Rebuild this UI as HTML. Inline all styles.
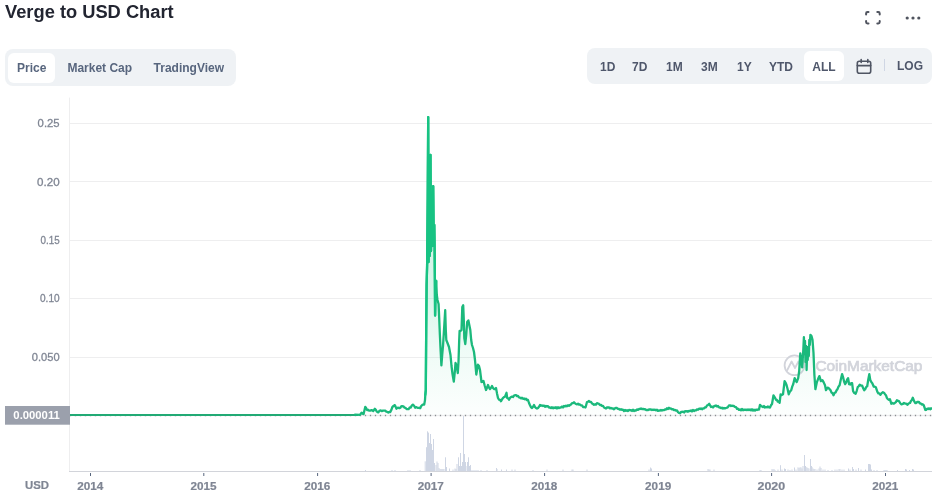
<!DOCTYPE html>
<html lang="en"><head><meta charset="utf-8"><title>Verge to USD Chart</title>
<style>
html,body{margin:0;padding:0;background:#fff;}
body{width:932px;height:498px;overflow:hidden;position:relative;font-family:"Liberation Sans",Arial,sans-serif;}
h2.title{position:absolute;left:5px;top:1px;margin:0;font-size:18.3px;line-height:22px;font-weight:700;color:#222531;letter-spacing:0;}
.icons{position:absolute;right:0;top:0;}
.tabs{position:absolute;left:4.6px;top:49.4px;width:231.6px;height:37.1px;background:#eff2f5;border-radius:8px;}
.tab{position:absolute;top:3.8px;height:30.3px;line-height:30px;font-size:12px;font-weight:700;color:#58667e;white-space:nowrap;}
.tab.on{background:#fff;border-radius:6px;}
.ranges{position:absolute;left:587px;top:48px;width:345px;height:36px;background:#eff2f5;border-radius:8px;}
.rg{position:absolute;top:4px;height:30px;line-height:30px;font-size:12px;font-weight:700;color:#4f576b;white-space:nowrap;}
.rg.on{background:#fff;border-radius:6px;}
svg{position:absolute;left:0;top:0;}
</style></head><body>
<h2 class="title">Verge to USD Chart</h2>
<svg width="932" height="498" viewBox="0 0 932 498" style="z-index:0">
 <defs>
  <linearGradient id="ag" x1="0" y1="116" x2="0" y2="416" gradientUnits="userSpaceOnUse">
   <stop offset="0" stop-color="#16c784" stop-opacity="0.26"/>
   <stop offset="0.6" stop-color="#16c784" stop-opacity="0.16"/>
   <stop offset="0.78" stop-color="#16c784" stop-opacity="0.07"/>
   <stop offset="1" stop-color="#16c784" stop-opacity="0.01"/>
  </linearGradient>
 </defs>
 <g stroke="#eeeeef" stroke-width="1"><line x1="70" y1="123.5" x2="932" y2="123.5"/><line x1="70" y1="181.5" x2="932" y2="181.5"/><line x1="70" y1="240.5" x2="932" y2="240.5"/><line x1="70" y1="298.5" x2="932" y2="298.5"/><line x1="70" y1="357.5" x2="932" y2="357.5"/></g>
 <line x1="69.5" y1="97.6" x2="69.5" y2="471" stroke="#eeeeef" stroke-width="1"/>
 <g fill="#cfd6e4"><rect x="365" y="470" width="1" height="1"/><rect x="391.5" y="470" width="1" height="1"/><rect x="394.5" y="470" width="1" height="1"/><rect x="407.5" y="470" width="1" height="1"/><rect x="409.5" y="470" width="1" height="1"/><rect x="419.5" y="470" width="1" height="1"/><rect x="424.7" y="461.3" width="1" height="9.7"/><rect x="426" y="447.2" width="1" height="23.8"/><rect x="427" y="431.3" width="1" height="39.7"/><rect x="428" y="432.6" width="1" height="38.4"/><rect x="429" y="443" width="1" height="28"/><rect x="430" y="434" width="1" height="37"/><rect x="431" y="444" width="1" height="27"/><rect x="432" y="450" width="1" height="21"/><rect x="433" y="439" width="1" height="32"/><rect x="434" y="463" width="1" height="8"/><rect x="435.5" y="465" width="1" height="6"/><rect x="436.5" y="461.5" width="1" height="9.5"/><rect x="437.5" y="463" width="1" height="8"/><rect x="438.5" y="468" width="1" height="3"/><rect x="439.5" y="469" width="1" height="2"/><rect x="440.5" y="469" width="1" height="2"/><rect x="441.5" y="469" width="1" height="2"/><rect x="442.5" y="469" width="1" height="2"/><rect x="443.5" y="469" width="1" height="2"/><rect x="445" y="457.3" width="1" height="13.7"/><rect x="446" y="467" width="1" height="4"/><rect x="449" y="468.5" width="1" height="2.5"/><rect x="452.5" y="469.5" width="1" height="1.5"/><rect x="454.5" y="468.5" width="1" height="2.5"/><rect x="455.5" y="469" width="1" height="2"/><rect x="456.5" y="464" width="1" height="7"/><rect x="458" y="457.3" width="1" height="13.7"/><rect x="459" y="466" width="1" height="5"/><rect x="460" y="453" width="1" height="18"/><rect x="461" y="466" width="1" height="5"/><rect x="462" y="462" width="1" height="9"/><rect x="463" y="416" width="1" height="55"/><rect x="464" y="454" width="1" height="17"/><rect x="465" y="462" width="1" height="9"/><rect x="465.5" y="466" width="1" height="5"/><rect x="467" y="462" width="1" height="9"/><rect x="468" y="457.3" width="1" height="13.7"/><rect x="469" y="466" width="1" height="5"/><rect x="470" y="465" width="1" height="6"/><rect x="471.5" y="470" width="1" height="1"/><rect x="473.5" y="470" width="1" height="1"/><rect x="475.5" y="470" width="1" height="1"/><rect x="477.5" y="470" width="1" height="1"/><rect x="480.5" y="470" width="1" height="1"/><rect x="486.5" y="470" width="1" height="1"/><rect x="496" y="468" width="1" height="3"/><rect x="496.5" y="469" width="1" height="2"/><rect x="501" y="469.5" width="1" height="1.5"/><rect x="506" y="469.5" width="1" height="1.5"/><rect x="511.5" y="469.5" width="1" height="1.5"/><rect x="514.5" y="469.5" width="1" height="1.5"/><rect x="532.5" y="470" width="1" height="1"/><rect x="546.5" y="469.5" width="1" height="1.5"/><rect x="562.5" y="469.5" width="1" height="1.5"/><rect x="571.5" y="469.5" width="1" height="1.5"/><rect x="572.5" y="469.5" width="1" height="1.5"/><rect x="586.5" y="469.5" width="1" height="1.5"/><rect x="648.5" y="469.5" width="1" height="1.5"/><rect x="650" y="467.5" width="1" height="3.5"/><rect x="651" y="468.5" width="1" height="2.5"/><rect x="707.5" y="469" width="1" height="2"/><rect x="708.5" y="469.5" width="1" height="1.5"/><rect x="709.5" y="469.5" width="1" height="1.5"/><rect x="713.5" y="469.5" width="1" height="1.5"/><rect x="759.5" y="470" width="1" height="1"/><rect x="760.5" y="470" width="1" height="1"/><rect x="771.5" y="469" width="1" height="2"/><rect x="772.5" y="469.5" width="1" height="1.5"/><rect x="773.5" y="469" width="1" height="2"/><rect x="774.5" y="470" width="1" height="1"/><rect x="777.5" y="469.5" width="1" height="1.5"/><rect x="780" y="465.2" width="1" height="5.8"/><rect x="781.5" y="469.5" width="1" height="1.5"/><rect x="784" y="468.5" width="1" height="2.5"/><rect x="785" y="469" width="1" height="2"/><rect x="787.5" y="469.5" width="1" height="1.5"/><rect x="789.5" y="470" width="1" height="1"/><rect x="791.5" y="469.5" width="1" height="1.5"/><rect x="794" y="467.5" width="1" height="3.5"/><rect x="795.5" y="469.5" width="1" height="1.5"/><rect x="797.5" y="467.3" width="1" height="3.7"/><rect x="798.5" y="468" width="1" height="3"/><rect x="799.5" y="467.3" width="1" height="3.7"/><rect x="800.5" y="467.3" width="1" height="3.7"/><rect x="801.5" y="468.5" width="1" height="2.5"/><rect x="802.5" y="466" width="1" height="5"/><rect x="804" y="455" width="1" height="16"/><rect x="805" y="466" width="1" height="5"/><rect x="805.5" y="467" width="1" height="4"/><rect x="806.5" y="467.5" width="1" height="3.5"/><rect x="807.5" y="468" width="1" height="3"/><rect x="808.5" y="468.5" width="1" height="2.5"/><rect x="810" y="459" width="1" height="12"/><rect x="811" y="466" width="1" height="5"/><rect x="811.5" y="467" width="1" height="4"/><rect x="812.5" y="468.5" width="1" height="2.5"/><rect x="813.5" y="469" width="1" height="2"/><rect x="814.5" y="469" width="1" height="2"/><rect x="816.5" y="469.5" width="1" height="1.5"/><rect x="818.5" y="468.5" width="1" height="2.5"/><rect x="819.5" y="466.5" width="1" height="4.5"/><rect x="820.5" y="468" width="1" height="3"/><rect x="822.5" y="469.5" width="1" height="1.5"/><rect x="824.5" y="469.5" width="1" height="1.5"/><rect x="827.5" y="470" width="1" height="1"/><rect x="831.5" y="470" width="1" height="1"/><rect x="834.5" y="469.5" width="1" height="1.5"/><rect x="836.5" y="469.5" width="1" height="1.5"/><rect x="838.5" y="469" width="1" height="2"/><rect x="839.5" y="469" width="1" height="2"/><rect x="841.5" y="469.5" width="1" height="1.5"/><rect x="843.5" y="469.5" width="1" height="1.5"/><rect x="848" y="468.5" width="1" height="2.5"/><rect x="849.5" y="469.5" width="1" height="1.5"/><rect x="852" y="467" width="1" height="4"/><rect x="853" y="469" width="1" height="2"/><rect x="855.5" y="469.5" width="1" height="1.5"/><rect x="858" y="468" width="1" height="3"/><rect x="860.5" y="469.5" width="1" height="1.5"/><rect x="865" y="469.5" width="1" height="1.5"/><rect x="868" y="464" width="1" height="7"/><rect x="869" y="464" width="1" height="7"/><rect x="870" y="464.5" width="1" height="6.5"/><rect x="871" y="469.5" width="1" height="1.5"/><rect x="873.5" y="470" width="1" height="1"/><rect x="876.5" y="470" width="1" height="1"/><rect x="883.5" y="470" width="1" height="1"/><rect x="884.5" y="470" width="1" height="1"/><rect x="885.5" y="470" width="1" height="1"/><rect x="886.5" y="470" width="1" height="1"/><rect x="897" y="470" width="1" height="1"/><rect x="905" y="469" width="1" height="2"/><rect x="906" y="469.5" width="1" height="1.5"/><rect x="909" y="470" width="1" height="1"/><rect x="912" y="469" width="1" height="2"/><rect x="913" y="469.5" width="1" height="1.5"/></g>
 <line x1="69" y1="471.5" x2="932" y2="471.5" stroke="#d2d4da" stroke-width="1.2"/>
 <g stroke="#58667e" stroke-width="1"><line x1="90.5" y1="473" x2="90.5" y2="476"/><line x1="203.8" y1="473" x2="203.8" y2="476"/><line x1="317.6" y1="473" x2="317.6" y2="476"/><line x1="431.1" y1="473" x2="431.1" y2="476"/><line x1="544.6" y1="473" x2="544.6" y2="476"/><line x1="658.4" y1="473" x2="658.4" y2="476"/><line x1="771.6" y1="473" x2="771.6" y2="476"/><line x1="885.5" y1="473" x2="885.5" y2="476"/></g>
 <g font-family="Liberation Sans, Arial, sans-serif" font-size="11.5" fill="#7f8593" stroke="#7f8593" stroke-width="0.3"><text x="37.6" y="127.2" textLength="22.0" lengthAdjust="spacingAndGlyphs">0.25</text><text x="37.1" y="185.5" textLength="22.5" lengthAdjust="spacingAndGlyphs">0.20</text><text x="40.5" y="243.9" textLength="19.1" lengthAdjust="spacingAndGlyphs">0.15</text><text x="40" y="302.3" textLength="19.6" lengthAdjust="spacingAndGlyphs">0.10</text><text x="31.8" y="360.8" textLength="27.8" lengthAdjust="spacingAndGlyphs">0.050</text></g>
 <g font-family="Liberation Sans, Arial, sans-serif" font-size="11.6" font-weight="700" fill="#7f8593" stroke="#7f8593" stroke-width="0.2"><text x="77.2" y="490" textLength="26.1" lengthAdjust="spacingAndGlyphs">2014</text><text x="190.5" y="490" textLength="26.1" lengthAdjust="spacingAndGlyphs">2015</text><text x="304.3" y="490" textLength="26.1" lengthAdjust="spacingAndGlyphs">2016</text><text x="417.8" y="490" textLength="26.1" lengthAdjust="spacingAndGlyphs">2017</text><text x="531.3" y="490" textLength="26.1" lengthAdjust="spacingAndGlyphs">2018</text><text x="645.1" y="490" textLength="26.1" lengthAdjust="spacingAndGlyphs">2019</text><text x="757.5" y="490" textLength="27.7" lengthAdjust="spacingAndGlyphs">2020</text><text x="872.2" y="490" textLength="26.1" lengthAdjust="spacingAndGlyphs">2021</text><text x="25" y="488.6" font-size="11.5" textLength="24" lengthAdjust="spacingAndGlyphs">USD</text></g>
 <g fill="none" stroke="#d2d4db" stroke-width="1.8">
  <circle cx="794.5" cy="365.3" r="9.9"/>
  <path d="M787.3 370 L791.6 361.5 L795 368 L798.4 361.5 L801 367" stroke-linejoin="round" stroke-linecap="round"/>
 </g>
 <text x="815.4" y="371.4" font-family="Liberation Sans, Arial, sans-serif" font-size="14.4" font-weight="400" fill="#d2d4db" stroke="#d2d4db" stroke-width="0.7" textLength="107" lengthAdjust="spacingAndGlyphs">CoinMarketCap</text>
 <path d="M70 415 L355 414.7 L360 414.9 L361.6 412.6 L362.6 413.72 L363.6 414.1 L365.3 406.8 L366.2 408.17 L367.1 410.1 L368.1 409.74 L369.1 410.68 L370.1 410.6 L371.6 410.1 L373.2 411.1 L374.9 408.8 L375.8 409.73 L376.7 411.6 L378.2 412.4 L379.7 410.6 L380.7 410.46 L381.7 411.1 L382.95 410.61 L384.2 410.6 L385.25 410.64 L386.3 411.6 L387.3 411.87 L388.3 412.6 L389.3 411.93 L390.3 412.1 L391.3 410.1 L392.3 407.1 L393.55 405.86 L394.8 405.1 L396.5 408.7 L397.9 407.6 L399.4 408.2 L400.3 407.75 L401.2 406.38 L402.1 406.1 L403.35 406.28 L404.6 407.7 L405.6 407.93 L406.6 409.02 L407.6 409.2 L408.6 409.22 L409.6 407.53 L410.6 407.7 L411.75 405.66 L412.9 404.6 L414.05 405.75 L415.2 407.7 L416.45 407.11 L417.7 407.9 L418.95 407.82 L420.2 408.2 L421.2 406.02 L422.2 405.1 L423.2 404.5 L424.2 404.6 L425 400.1 L425.3 395 L425.8 390 L426.2 330 L426.6 285 L427.1 266 L427.7 200 L428.2 117.1 L428.6 262 L429.1 200 L429.7 256 L430.5 155 L431 251 L431.6 200 L432.2 246 L433.2 186.2 L433.8 246 L434.3 225 L434.6 246 L434.9 281 L435.1 315.6 L435.6 290 L436.2 281 L436.8 295 L437.5 300 L438.6 304 L439.2 318 L439.8 333 L440.5 348 L441.4 365.4 L442.2 355 L443 346 L444 330 L445.2 310.2 L445.8 330 L446.3 340 L447.5 343 L449 347 L450.5 355 L451.5 366 L452.5 374 L453.8 381.6 L454.8 372 L455.5 363 L456.5 365 L457.8 373 L458.5 362 L459.2 340 L459.6 331 L460.5 331 L461.5 330 L462.3 307 L463.2 305.2 L463.8 320 L464.3 338 L465.3 344 L466.2 335 L467.2 322 L468.4 320.4 L469.3 325 L470.3 330 L471.2 340 L472 345 L473 348 L474 352 L475 360 L476.3 374.5 L477.9 364.6 L479 366 L480 370 L481.5 382 L482.5 381.78 L483.5 381 L484.75 385.77 L486 390 L487 387.86 L488 385 L489 387.61 L490 389 L491 387.8 L492 386 L493 387.99 L494 389 L495 389.02 L496 388 L497 393.39 L498 398 L499 399.55 L500 399.89 L501 401.2 L502 399.36 L503 398 L504 397.04 L505 396.7 L506.5 392.8 L507.2 398 L508.1 398.31 L509 399.7 L510 397.93 L511 397 L512 396.64 L513 397 L514 395.6 L515 395.2 L516 395.03 L517 396.09 L518 396 L519 397.45 L520 397.7 L521 398.45 L522 397.77 L523 398.79 L524 398.5 L525 399.34 L526 398.61 L527 400.19 L528 400 L529 403 L530 405.3 L531 407.34 L532 408 L533 406.77 L534 405 L535 406.91 L536 408 L537 408.58 L538 408 L539 406.78 L540 405 L541 405.78 L542 405.44 L543 406 L544 405.59 L545 406.83 L546 405.88 L547 406.5 L548 406.19 L549 407.53 L550 407.5 L551 408.15 L552 407.2 L553 408.29 L554 407.47 L555 408 L556 407.28 L557 408.47 L558 407.26 L559 408.14 L560 407.5 L561 407.54 L562 406.55 L563 407.43 L564 406 L565 406.5 L566 405.59 L567 406.25 L568 405.2 L569 405.84 L570 405 L571 404.52 L572 403.16 L573 403.19 L574 402.2 L575 403.37 L576 404 L577 404.36 L578 403.66 L579 404.65 L580 404.5 L581 405.46 L582 405.35 L583 407.01 L584 407 L585.5 407.5 L587 402 L588 401.75 L589 401 L590 401.93 L591 402 L592 403.48 L593 404 L594 404.79 L595 404.3 L596 404.64 L597 403.13 L598 403.5 L599 403.9 L600 405 L601 404.85 L602 405.92 L603 405.8 L604 407.54 L605 408 L606 408.51 L607 407.38 L608 407.5 L609 407.45 L610 408.32 L611 407.93 L612 408.5 L613 408.45 L614 409.3 L615 408.15 L616 408 L617 407.99 L618 408.88 L619 409 L620 409.68 L621 409.14 L622 409.8 L623 409.56 L624 410.98 L625 410 L626 410.8 L627 410.21 L628 411.06 L629 409.88 L630 410.3 L631 410.06 L632 410.95 L633 409.71 L634 410.94 L635 410.3 L636 410.64 L637 409.38 L638 409.93 L639 409 L640 409 L641 408.41 L642 409.11 L643 408.8 L644 409.34 L645 409.09 L646 409.99 L647 410 L648 410.21 L649 409.43 L650 409.5 L651 409.41 L652 410.03 L653 409.62 L654 410 L655 409.71 L656 410.42 L657 409.66 L658 410.91 L659 410.5 L660 410.66 L661 409.92 L662 410.51 L663 410 L664 410.22 L665 409.4 L666 409.5 L667 408.31 L668 409.06 L669 407.8 L670 408.59 L671 408.5 L672 409.45 L673 409.25 L674 410 L675 409.91 L676 410.71 L677 410.5 L678 412.04 L679 412.9 L680 413.22 L681 412.01 L682 412 L683 411.65 L684 412.43 L685 411.16 L686 411.5 L687 411.09 L688 411.73 L689 410.9 L690 411 L691 410.39 L692 411.41 L693 409.95 L694 410.99 L695 410.3 L696 410.38 L697 409.39 L698 409.81 L699 408.67 L700 409 L701 408.36 L702 409.26 L703 408.5 L704 408.47 L705 407.38 L706 407.3 L707 405.54 L708 405 L709.2 403.8 L711 407 L712 406.56 L713 407.5 L714 406.12 L715 406 L716 405.4 L717 406.61 L718 406 L719 407.32 L720 407.5 L721 408.15 L722 407.7 L723 408.5 L724 407.95 L725 408.39 L726 408 L727 407.72 L728 407 L729 405.3 L730 405.3 L731 406 L732 405.66 L733 406 L734 405.95 L735 407 L736 407.22 L737 408.8 L738 408.6 L739 409.94 L740 409.5 L741 410.29 L742 409.02 L743 410.19 L744 409.58 L745 410 L746 409.58 L747 410.11 L748 409.39 L749 410.12 L750 409.5 L751 410.35 L752 409.28 L753 410.54 L754 409.77 L755 410.5 L756 409.65 L757 410 L758 409.5 L759 409.5 L760 404.8 L761 406 L762 406.5 L763 407.16 L764 406.09 L765 407.47 L766 407 L767 407.33 L768 406.5 L769 407.44 L770 407.5 L771 405.3 L772 404 L773.5 395.3 L774.75 397.25 L776 399.8 L776.9 399.95 L777.8 401.67 L778.7 401.45 L779.6 402.8 L780.6 394.3 L781.8 394.99 L783 394.3 L784.6 381.1 L785.6 382.75 L786.6 385.2 L787.65 389.34 L788.7 394.3 L789.95 391.58 L791.2 390.2 L792.2 386.63 L793.2 384.2 L794.7 378.1 L795.7 380.39 L796.7 382.1 L798.2 378.1 L799.2 371 L800.3 353.3 L801 358 L802.2 367.4 L803.3 350 L803.9 337.2 L804.5 350 L805 341 L805.5 362 L806.1 346 L806.6 370 L807.2 349 L807.7 360 L808.2 347 L808.8 356 L809.3 340 L809.8 345 L810.4 334.8 L811.5 336 L812.5 339.8 L813.5 353 L814.4 375 L815.4 389.2 L816.9 382.1 L818.15 378.83 L819.4 376.1 L820.9 381.1 L822.4 380.1 L823.7 382.37 L825 385.2 L826 390.2 L827.5 387.7 L828.5 387.8 L829.5 389.2 L830.5 390.12 L831.5 392.53 L832.5 393.16 L833.5 395.3 L834.53 392.91 L835.57 392.43 L836.6 390.2 L837.6 388.92 L838.6 386.39 L839.6 385.2 L840.85 379.38 L842.1 374.1 L843.1 377.25 L844.1 381.52 L845.1 384.2 L846.1 382.7 L847.1 379.67 L848.1 378.1 L849.1 384.2 L850.1 384.53 L851.1 383.11 L852.1 383.2 L853.1 391.2 L854.35 393.09 L855.6 393.7 L856.65 391.06 L857.7 387.2 L858.7 386.26 L859.7 384.7 L860.95 385.53 L862.2 385.7 L863.2 388.3 L864.2 390.2 L865.2 389.19 L866.2 387.04 L867.2 386.2 L868.25 379.81 L869.3 374.1 L870.3 380.1 L871.3 382.07 L872.3 383.2 L873.8 386.7 L874.8 386.68 L875.8 387.2 L877.3 391.7 L878.33 393.39 L879.37 393.38 L880.4 394.8 L881.65 393.07 L882.9 392.2 L883.95 392.7 L885 394.2 L885.93 395.18 L886.87 397.88 L887.8 399.1 L888.85 399.76 L889.9 399.1 L891.3 403.7 L892.47 403.01 L893.63 403.7 L894.8 403 L895.85 402.07 L896.9 400.2 L897.95 400.92 L899 401.2 L900.25 403.23 L901.5 404.4 L902.75 404 L904 403 L905.05 403.56 L906.1 403.7 L907.5 404.8 L908.75 403.3 L910 403 L910.93 400.94 L911.87 399.91 L912.8 397.7 L914 400.92 L915.2 403 L916.13 403.15 L917.07 401.96 L918 402 L918.93 402 L919.87 403.42 L920.8 403.4 L921.77 404.56 L922.73 404.27 L923.7 405.1 L925.4 410 L926.3 409.78 L927.2 408.6 L928.16 408.97 L929.12 408.33 L930.08 409.31 L931.04 408.3 L932 408.8 L932 415.5 L70 415.5 Z" fill="url(#ag)"/>
 <g fill="#ececee"><rect x="72" y="414.9" width="2" height="1.2"/><rect x="77" y="414.9" width="2" height="1.2"/><rect x="82" y="414.9" width="2" height="1.2"/><rect x="87" y="414.9" width="2" height="1.2"/><rect x="92" y="414.9" width="2" height="1.2"/><rect x="97" y="414.9" width="2" height="1.2"/><rect x="102" y="414.9" width="2" height="1.2"/><rect x="107" y="414.9" width="2" height="1.2"/><rect x="112" y="414.9" width="2" height="1.2"/><rect x="117" y="414.9" width="2" height="1.2"/><rect x="122" y="414.9" width="2" height="1.2"/><rect x="127" y="414.9" width="2" height="1.2"/><rect x="132" y="414.9" width="2" height="1.2"/><rect x="137" y="414.9" width="2" height="1.2"/><rect x="142" y="414.9" width="2" height="1.2"/><rect x="147" y="414.9" width="2" height="1.2"/><rect x="152" y="414.9" width="2" height="1.2"/><rect x="157" y="414.9" width="2" height="1.2"/><rect x="162" y="414.9" width="2" height="1.2"/><rect x="167" y="414.9" width="2" height="1.2"/><rect x="172" y="414.9" width="2" height="1.2"/><rect x="177" y="414.9" width="2" height="1.2"/><rect x="182" y="414.9" width="2" height="1.2"/><rect x="187" y="414.9" width="2" height="1.2"/><rect x="192" y="414.9" width="2" height="1.2"/><rect x="197" y="414.9" width="2" height="1.2"/><rect x="202" y="414.9" width="2" height="1.2"/><rect x="207" y="414.9" width="2" height="1.2"/><rect x="212" y="414.9" width="2" height="1.2"/><rect x="217" y="414.9" width="2" height="1.2"/><rect x="222" y="414.9" width="2" height="1.2"/><rect x="227" y="414.9" width="2" height="1.2"/><rect x="232" y="414.9" width="2" height="1.2"/><rect x="237" y="414.9" width="2" height="1.2"/><rect x="242" y="414.9" width="2" height="1.2"/><rect x="247" y="414.9" width="2" height="1.2"/><rect x="252" y="414.9" width="2" height="1.2"/><rect x="257" y="414.9" width="2" height="1.2"/><rect x="262" y="414.9" width="2" height="1.2"/><rect x="267" y="414.9" width="2" height="1.2"/><rect x="272" y="414.9" width="2" height="1.2"/><rect x="277" y="414.9" width="2" height="1.2"/><rect x="282" y="414.9" width="2" height="1.2"/><rect x="287" y="414.9" width="2" height="1.2"/><rect x="292" y="414.9" width="2" height="1.2"/><rect x="297" y="414.9" width="2" height="1.2"/><rect x="302" y="414.9" width="2" height="1.2"/><rect x="307" y="414.9" width="2" height="1.2"/><rect x="312" y="414.9" width="2" height="1.2"/><rect x="317" y="414.9" width="2" height="1.2"/><rect x="322" y="414.9" width="2" height="1.2"/><rect x="327" y="414.9" width="2" height="1.2"/><rect x="332" y="414.9" width="2" height="1.2"/><rect x="337" y="414.9" width="2" height="1.2"/><rect x="342" y="414.9" width="2" height="1.2"/><rect x="347" y="414.9" width="2" height="1.2"/><rect x="352" y="414.9" width="2" height="1.2"/><rect x="357" y="414.9" width="2" height="1.2"/><rect x="362" y="414.9" width="2" height="1.2"/><rect x="367" y="414.9" width="2" height="1.2"/><rect x="372" y="414.9" width="2" height="1.2"/><rect x="377" y="414.9" width="2" height="1.2"/><rect x="382" y="414.9" width="2" height="1.2"/><rect x="387" y="414.9" width="2" height="1.2"/><rect x="392" y="414.9" width="2" height="1.2"/><rect x="397" y="414.9" width="2" height="1.2"/><rect x="402" y="414.9" width="2" height="1.2"/><rect x="407" y="414.9" width="2" height="1.2"/><rect x="412" y="414.9" width="2" height="1.2"/><rect x="417" y="414.9" width="2" height="1.2"/><rect x="422" y="414.9" width="2" height="1.2"/><rect x="427" y="414.9" width="2" height="1.2"/><rect x="432" y="414.9" width="2" height="1.2"/><rect x="437" y="414.9" width="2" height="1.2"/><rect x="442" y="414.9" width="2" height="1.2"/><rect x="447" y="414.9" width="2" height="1.2"/><rect x="452" y="414.9" width="2" height="1.2"/><rect x="457" y="414.9" width="2" height="1.2"/><rect x="462" y="414.9" width="2" height="1.2"/><rect x="467" y="414.9" width="2" height="1.2"/><rect x="472" y="414.9" width="2" height="1.2"/><rect x="477" y="414.9" width="2" height="1.2"/><rect x="482" y="414.9" width="2" height="1.2"/><rect x="487" y="414.9" width="2" height="1.2"/><rect x="492" y="414.9" width="2" height="1.2"/><rect x="497" y="414.9" width="2" height="1.2"/><rect x="502" y="414.9" width="2" height="1.2"/><rect x="507" y="414.9" width="2" height="1.2"/><rect x="512" y="414.9" width="2" height="1.2"/><rect x="517" y="414.9" width="2" height="1.2"/><rect x="522" y="414.9" width="2" height="1.2"/><rect x="527" y="414.9" width="2" height="1.2"/><rect x="532" y="414.9" width="2" height="1.2"/><rect x="537" y="414.9" width="2" height="1.2"/><rect x="542" y="414.9" width="2" height="1.2"/><rect x="547" y="414.9" width="2" height="1.2"/><rect x="552" y="414.9" width="2" height="1.2"/><rect x="557" y="414.9" width="2" height="1.2"/><rect x="562" y="414.9" width="2" height="1.2"/><rect x="567" y="414.9" width="2" height="1.2"/><rect x="572" y="414.9" width="2" height="1.2"/><rect x="577" y="414.9" width="2" height="1.2"/><rect x="582" y="414.9" width="2" height="1.2"/><rect x="587" y="414.9" width="2" height="1.2"/><rect x="592" y="414.9" width="2" height="1.2"/><rect x="597" y="414.9" width="2" height="1.2"/><rect x="602" y="414.9" width="2" height="1.2"/><rect x="607" y="414.9" width="2" height="1.2"/><rect x="612" y="414.9" width="2" height="1.2"/><rect x="617" y="414.9" width="2" height="1.2"/><rect x="622" y="414.9" width="2" height="1.2"/><rect x="627" y="414.9" width="2" height="1.2"/><rect x="632" y="414.9" width="2" height="1.2"/><rect x="637" y="414.9" width="2" height="1.2"/><rect x="642" y="414.9" width="2" height="1.2"/><rect x="647" y="414.9" width="2" height="1.2"/><rect x="652" y="414.9" width="2" height="1.2"/><rect x="657" y="414.9" width="2" height="1.2"/><rect x="662" y="414.9" width="2" height="1.2"/><rect x="667" y="414.9" width="2" height="1.2"/><rect x="672" y="414.9" width="2" height="1.2"/><rect x="677" y="414.9" width="2" height="1.2"/><rect x="682" y="414.9" width="2" height="1.2"/><rect x="687" y="414.9" width="2" height="1.2"/><rect x="692" y="414.9" width="2" height="1.2"/><rect x="697" y="414.9" width="2" height="1.2"/><rect x="702" y="414.9" width="2" height="1.2"/><rect x="707" y="414.9" width="2" height="1.2"/><rect x="712" y="414.9" width="2" height="1.2"/><rect x="717" y="414.9" width="2" height="1.2"/><rect x="722" y="414.9" width="2" height="1.2"/><rect x="727" y="414.9" width="2" height="1.2"/><rect x="732" y="414.9" width="2" height="1.2"/><rect x="737" y="414.9" width="2" height="1.2"/><rect x="742" y="414.9" width="2" height="1.2"/><rect x="747" y="414.9" width="2" height="1.2"/><rect x="752" y="414.9" width="2" height="1.2"/><rect x="757" y="414.9" width="2" height="1.2"/><rect x="762" y="414.9" width="2" height="1.2"/><rect x="767" y="414.9" width="2" height="1.2"/><rect x="772" y="414.9" width="2" height="1.2"/><rect x="777" y="414.9" width="2" height="1.2"/><rect x="782" y="414.9" width="2" height="1.2"/><rect x="787" y="414.9" width="2" height="1.2"/><rect x="792" y="414.9" width="2" height="1.2"/><rect x="797" y="414.9" width="2" height="1.2"/><rect x="802" y="414.9" width="2" height="1.2"/><rect x="807" y="414.9" width="2" height="1.2"/><rect x="812" y="414.9" width="2" height="1.2"/><rect x="817" y="414.9" width="2" height="1.2"/><rect x="822" y="414.9" width="2" height="1.2"/><rect x="827" y="414.9" width="2" height="1.2"/><rect x="832" y="414.9" width="2" height="1.2"/><rect x="837" y="414.9" width="2" height="1.2"/><rect x="842" y="414.9" width="2" height="1.2"/><rect x="847" y="414.9" width="2" height="1.2"/><rect x="852" y="414.9" width="2" height="1.2"/><rect x="857" y="414.9" width="2" height="1.2"/><rect x="862" y="414.9" width="2" height="1.2"/><rect x="867" y="414.9" width="2" height="1.2"/><rect x="872" y="414.9" width="2" height="1.2"/><rect x="877" y="414.9" width="2" height="1.2"/><rect x="882" y="414.9" width="2" height="1.2"/><rect x="887" y="414.9" width="2" height="1.2"/><rect x="892" y="414.9" width="2" height="1.2"/><rect x="897" y="414.9" width="2" height="1.2"/><rect x="902" y="414.9" width="2" height="1.2"/><rect x="907" y="414.9" width="2" height="1.2"/><rect x="912" y="414.9" width="2" height="1.2"/><rect x="917" y="414.9" width="2" height="1.2"/><rect x="922" y="414.9" width="2" height="1.2"/><rect x="927" y="414.9" width="2" height="1.2"/></g><g fill="#8c8e93"><rect x="69.75" y="414.75" width="1.5" height="1.5"/><rect x="74.75" y="414.75" width="1.5" height="1.5"/><rect x="79.75" y="414.75" width="1.5" height="1.5"/><rect x="84.75" y="414.75" width="1.5" height="1.5"/><rect x="89.75" y="414.75" width="1.5" height="1.5"/><rect x="94.75" y="414.75" width="1.5" height="1.5"/><rect x="99.75" y="414.75" width="1.5" height="1.5"/><rect x="104.75" y="414.75" width="1.5" height="1.5"/><rect x="109.75" y="414.75" width="1.5" height="1.5"/><rect x="114.75" y="414.75" width="1.5" height="1.5"/><rect x="119.75" y="414.75" width="1.5" height="1.5"/><rect x="124.75" y="414.75" width="1.5" height="1.5"/><rect x="129.75" y="414.75" width="1.5" height="1.5"/><rect x="134.75" y="414.75" width="1.5" height="1.5"/><rect x="139.75" y="414.75" width="1.5" height="1.5"/><rect x="144.75" y="414.75" width="1.5" height="1.5"/><rect x="149.75" y="414.75" width="1.5" height="1.5"/><rect x="154.75" y="414.75" width="1.5" height="1.5"/><rect x="159.75" y="414.75" width="1.5" height="1.5"/><rect x="164.75" y="414.75" width="1.5" height="1.5"/><rect x="169.75" y="414.75" width="1.5" height="1.5"/><rect x="174.75" y="414.75" width="1.5" height="1.5"/><rect x="179.75" y="414.75" width="1.5" height="1.5"/><rect x="184.75" y="414.75" width="1.5" height="1.5"/><rect x="189.75" y="414.75" width="1.5" height="1.5"/><rect x="194.75" y="414.75" width="1.5" height="1.5"/><rect x="199.75" y="414.75" width="1.5" height="1.5"/><rect x="204.75" y="414.75" width="1.5" height="1.5"/><rect x="209.75" y="414.75" width="1.5" height="1.5"/><rect x="214.75" y="414.75" width="1.5" height="1.5"/><rect x="219.75" y="414.75" width="1.5" height="1.5"/><rect x="224.75" y="414.75" width="1.5" height="1.5"/><rect x="229.75" y="414.75" width="1.5" height="1.5"/><rect x="234.75" y="414.75" width="1.5" height="1.5"/><rect x="239.75" y="414.75" width="1.5" height="1.5"/><rect x="244.75" y="414.75" width="1.5" height="1.5"/><rect x="249.75" y="414.75" width="1.5" height="1.5"/><rect x="254.75" y="414.75" width="1.5" height="1.5"/><rect x="259.75" y="414.75" width="1.5" height="1.5"/><rect x="264.75" y="414.75" width="1.5" height="1.5"/><rect x="269.75" y="414.75" width="1.5" height="1.5"/><rect x="274.75" y="414.75" width="1.5" height="1.5"/><rect x="279.75" y="414.75" width="1.5" height="1.5"/><rect x="284.75" y="414.75" width="1.5" height="1.5"/><rect x="289.75" y="414.75" width="1.5" height="1.5"/><rect x="294.75" y="414.75" width="1.5" height="1.5"/><rect x="299.75" y="414.75" width="1.5" height="1.5"/><rect x="304.75" y="414.75" width="1.5" height="1.5"/><rect x="309.75" y="414.75" width="1.5" height="1.5"/><rect x="314.75" y="414.75" width="1.5" height="1.5"/><rect x="319.75" y="414.75" width="1.5" height="1.5"/><rect x="324.75" y="414.75" width="1.5" height="1.5"/><rect x="329.75" y="414.75" width="1.5" height="1.5"/><rect x="334.75" y="414.75" width="1.5" height="1.5"/><rect x="339.75" y="414.75" width="1.5" height="1.5"/><rect x="344.75" y="414.75" width="1.5" height="1.5"/><rect x="349.75" y="414.75" width="1.5" height="1.5"/><rect x="354.75" y="414.75" width="1.5" height="1.5"/><rect x="359.75" y="414.75" width="1.5" height="1.5"/><rect x="364.75" y="414.75" width="1.5" height="1.5"/><rect x="369.75" y="414.75" width="1.5" height="1.5"/><rect x="374.75" y="414.75" width="1.5" height="1.5"/><rect x="379.75" y="414.75" width="1.5" height="1.5"/><rect x="384.75" y="414.75" width="1.5" height="1.5"/><rect x="389.75" y="414.75" width="1.5" height="1.5"/><rect x="394.75" y="414.75" width="1.5" height="1.5"/><rect x="399.75" y="414.75" width="1.5" height="1.5"/><rect x="404.75" y="414.75" width="1.5" height="1.5"/><rect x="409.75" y="414.75" width="1.5" height="1.5"/><rect x="414.75" y="414.75" width="1.5" height="1.5"/><rect x="419.75" y="414.75" width="1.5" height="1.5"/><rect x="424.75" y="414.75" width="1.5" height="1.5"/><rect x="429.75" y="414.75" width="1.5" height="1.5"/><rect x="434.75" y="414.75" width="1.5" height="1.5"/><rect x="439.75" y="414.75" width="1.5" height="1.5"/><rect x="444.75" y="414.75" width="1.5" height="1.5"/><rect x="449.75" y="414.75" width="1.5" height="1.5"/><rect x="454.75" y="414.75" width="1.5" height="1.5"/><rect x="459.75" y="414.75" width="1.5" height="1.5"/><rect x="464.75" y="414.75" width="1.5" height="1.5"/><rect x="469.75" y="414.75" width="1.5" height="1.5"/><rect x="474.75" y="414.75" width="1.5" height="1.5"/><rect x="479.75" y="414.75" width="1.5" height="1.5"/><rect x="484.75" y="414.75" width="1.5" height="1.5"/><rect x="489.75" y="414.75" width="1.5" height="1.5"/><rect x="494.75" y="414.75" width="1.5" height="1.5"/><rect x="499.75" y="414.75" width="1.5" height="1.5"/><rect x="504.75" y="414.75" width="1.5" height="1.5"/><rect x="509.75" y="414.75" width="1.5" height="1.5"/><rect x="514.75" y="414.75" width="1.5" height="1.5"/><rect x="519.75" y="414.75" width="1.5" height="1.5"/><rect x="524.75" y="414.75" width="1.5" height="1.5"/><rect x="529.75" y="414.75" width="1.5" height="1.5"/><rect x="534.75" y="414.75" width="1.5" height="1.5"/><rect x="539.75" y="414.75" width="1.5" height="1.5"/><rect x="544.75" y="414.75" width="1.5" height="1.5"/><rect x="549.75" y="414.75" width="1.5" height="1.5"/><rect x="554.75" y="414.75" width="1.5" height="1.5"/><rect x="559.75" y="414.75" width="1.5" height="1.5"/><rect x="564.75" y="414.75" width="1.5" height="1.5"/><rect x="569.75" y="414.75" width="1.5" height="1.5"/><rect x="574.75" y="414.75" width="1.5" height="1.5"/><rect x="579.75" y="414.75" width="1.5" height="1.5"/><rect x="584.75" y="414.75" width="1.5" height="1.5"/><rect x="589.75" y="414.75" width="1.5" height="1.5"/><rect x="594.75" y="414.75" width="1.5" height="1.5"/><rect x="599.75" y="414.75" width="1.5" height="1.5"/><rect x="604.75" y="414.75" width="1.5" height="1.5"/><rect x="609.75" y="414.75" width="1.5" height="1.5"/><rect x="614.75" y="414.75" width="1.5" height="1.5"/><rect x="619.75" y="414.75" width="1.5" height="1.5"/><rect x="624.75" y="414.75" width="1.5" height="1.5"/><rect x="629.75" y="414.75" width="1.5" height="1.5"/><rect x="634.75" y="414.75" width="1.5" height="1.5"/><rect x="639.75" y="414.75" width="1.5" height="1.5"/><rect x="644.75" y="414.75" width="1.5" height="1.5"/><rect x="649.75" y="414.75" width="1.5" height="1.5"/><rect x="654.75" y="414.75" width="1.5" height="1.5"/><rect x="659.75" y="414.75" width="1.5" height="1.5"/><rect x="664.75" y="414.75" width="1.5" height="1.5"/><rect x="669.75" y="414.75" width="1.5" height="1.5"/><rect x="674.75" y="414.75" width="1.5" height="1.5"/><rect x="679.75" y="414.75" width="1.5" height="1.5"/><rect x="684.75" y="414.75" width="1.5" height="1.5"/><rect x="689.75" y="414.75" width="1.5" height="1.5"/><rect x="694.75" y="414.75" width="1.5" height="1.5"/><rect x="699.75" y="414.75" width="1.5" height="1.5"/><rect x="704.75" y="414.75" width="1.5" height="1.5"/><rect x="709.75" y="414.75" width="1.5" height="1.5"/><rect x="714.75" y="414.75" width="1.5" height="1.5"/><rect x="719.75" y="414.75" width="1.5" height="1.5"/><rect x="724.75" y="414.75" width="1.5" height="1.5"/><rect x="729.75" y="414.75" width="1.5" height="1.5"/><rect x="734.75" y="414.75" width="1.5" height="1.5"/><rect x="739.75" y="414.75" width="1.5" height="1.5"/><rect x="744.75" y="414.75" width="1.5" height="1.5"/><rect x="749.75" y="414.75" width="1.5" height="1.5"/><rect x="754.75" y="414.75" width="1.5" height="1.5"/><rect x="759.75" y="414.75" width="1.5" height="1.5"/><rect x="764.75" y="414.75" width="1.5" height="1.5"/><rect x="769.75" y="414.75" width="1.5" height="1.5"/><rect x="774.75" y="414.75" width="1.5" height="1.5"/><rect x="779.75" y="414.75" width="1.5" height="1.5"/><rect x="784.75" y="414.75" width="1.5" height="1.5"/><rect x="789.75" y="414.75" width="1.5" height="1.5"/><rect x="794.75" y="414.75" width="1.5" height="1.5"/><rect x="799.75" y="414.75" width="1.5" height="1.5"/><rect x="804.75" y="414.75" width="1.5" height="1.5"/><rect x="809.75" y="414.75" width="1.5" height="1.5"/><rect x="814.75" y="414.75" width="1.5" height="1.5"/><rect x="819.75" y="414.75" width="1.5" height="1.5"/><rect x="824.75" y="414.75" width="1.5" height="1.5"/><rect x="829.75" y="414.75" width="1.5" height="1.5"/><rect x="834.75" y="414.75" width="1.5" height="1.5"/><rect x="839.75" y="414.75" width="1.5" height="1.5"/><rect x="844.75" y="414.75" width="1.5" height="1.5"/><rect x="849.75" y="414.75" width="1.5" height="1.5"/><rect x="854.75" y="414.75" width="1.5" height="1.5"/><rect x="859.75" y="414.75" width="1.5" height="1.5"/><rect x="864.75" y="414.75" width="1.5" height="1.5"/><rect x="869.75" y="414.75" width="1.5" height="1.5"/><rect x="874.75" y="414.75" width="1.5" height="1.5"/><rect x="879.75" y="414.75" width="1.5" height="1.5"/><rect x="884.75" y="414.75" width="1.5" height="1.5"/><rect x="889.75" y="414.75" width="1.5" height="1.5"/><rect x="894.75" y="414.75" width="1.5" height="1.5"/><rect x="899.75" y="414.75" width="1.5" height="1.5"/><rect x="904.75" y="414.75" width="1.5" height="1.5"/><rect x="909.75" y="414.75" width="1.5" height="1.5"/><rect x="914.75" y="414.75" width="1.5" height="1.5"/><rect x="919.75" y="414.75" width="1.5" height="1.5"/><rect x="924.75" y="414.75" width="1.5" height="1.5"/><rect x="929.75" y="414.75" width="1.5" height="1.5"/></g>
 <path d="M70 414.9 L358 414.9" fill="none" stroke="#22aa75" stroke-width="2"/>
 <path d="M355 414.7 L360 414.9 L361.6 412.6 L362.6 413.72 L363.6 414.1 L365.3 406.8 L366.2 408.17 L367.1 410.1 L368.1 409.74 L369.1 410.68 L370.1 410.6 L371.6 410.1 L373.2 411.1 L374.9 408.8 L375.8 409.73 L376.7 411.6 L378.2 412.4 L379.7 410.6 L380.7 410.46 L381.7 411.1 L382.95 410.61 L384.2 410.6 L385.25 410.64 L386.3 411.6 L387.3 411.87 L388.3 412.6 L389.3 411.93 L390.3 412.1 L391.3 410.1 L392.3 407.1 L393.55 405.86 L394.8 405.1 L396.5 408.7 L397.9 407.6 L399.4 408.2 L400.3 407.75 L401.2 406.38 L402.1 406.1 L403.35 406.28 L404.6 407.7 L405.6 407.93 L406.6 409.02 L407.6 409.2 L408.6 409.22 L409.6 407.53 L410.6 407.7 L411.75 405.66 L412.9 404.6 L414.05 405.75 L415.2 407.7 L416.45 407.11 L417.7 407.9 L418.95 407.82 L420.2 408.2 L421.2 406.02 L422.2 405.1 L423.2 404.5 L424.2 404.6 L425 400.1 L425.3 395 L425.8 390 L426.2 330 L426.6 285 L427.1 266 L427.7 200 L428.2 117.1 L428.6 262 L429.1 200 L429.7 256 L430.5 155 L431 251 L431.6 200 L432.2 246 L433.2 186.2 L433.8 246 L434.3 225 L434.6 246 L434.9 281 L435.1 315.6 L435.6 290 L436.2 281 L436.8 295 L437.5 300 L438.6 304 L439.2 318 L439.8 333 L440.5 348 L441.4 365.4 L442.2 355 L443 346 L444 330 L445.2 310.2 L445.8 330 L446.3 340 L447.5 343 L449 347 L450.5 355 L451.5 366 L452.5 374 L453.8 381.6 L454.8 372 L455.5 363 L456.5 365 L457.8 373 L458.5 362 L459.2 340 L459.6 331 L460.5 331 L461.5 330 L462.3 307 L463.2 305.2 L463.8 320 L464.3 338 L465.3 344 L466.2 335 L467.2 322 L468.4 320.4 L469.3 325 L470.3 330 L471.2 340 L472 345 L473 348 L474 352 L475 360 L476.3 374.5 L477.9 364.6 L479 366 L480 370 L481.5 382 L482.5 381.78 L483.5 381 L484.75 385.77 L486 390 L487 387.86 L488 385 L489 387.61 L490 389 L491 387.8 L492 386 L493 387.99 L494 389 L495 389.02 L496 388 L497 393.39 L498 398 L499 399.55 L500 399.89 L501 401.2 L502 399.36 L503 398 L504 397.04 L505 396.7 L506.5 392.8 L507.2 398 L508.1 398.31 L509 399.7 L510 397.93 L511 397 L512 396.64 L513 397 L514 395.6 L515 395.2 L516 395.03 L517 396.09 L518 396 L519 397.45 L520 397.7 L521 398.45 L522 397.77 L523 398.79 L524 398.5 L525 399.34 L526 398.61 L527 400.19 L528 400 L529 403 L530 405.3 L531 407.34 L532 408 L533 406.77 L534 405 L535 406.91 L536 408 L537 408.58 L538 408 L539 406.78 L540 405 L541 405.78 L542 405.44 L543 406 L544 405.59 L545 406.83 L546 405.88 L547 406.5 L548 406.19 L549 407.53 L550 407.5 L551 408.15 L552 407.2 L553 408.29 L554 407.47 L555 408 L556 407.28 L557 408.47 L558 407.26 L559 408.14 L560 407.5 L561 407.54 L562 406.55 L563 407.43 L564 406 L565 406.5 L566 405.59 L567 406.25 L568 405.2 L569 405.84 L570 405 L571 404.52 L572 403.16 L573 403.19 L574 402.2 L575 403.37 L576 404 L577 404.36 L578 403.66 L579 404.65 L580 404.5 L581 405.46 L582 405.35 L583 407.01 L584 407 L585.5 407.5 L587 402 L588 401.75 L589 401 L590 401.93 L591 402 L592 403.48 L593 404 L594 404.79 L595 404.3 L596 404.64 L597 403.13 L598 403.5 L599 403.9 L600 405 L601 404.85 L602 405.92 L603 405.8 L604 407.54 L605 408 L606 408.51 L607 407.38 L608 407.5 L609 407.45 L610 408.32 L611 407.93 L612 408.5 L613 408.45 L614 409.3 L615 408.15 L616 408 L617 407.99 L618 408.88 L619 409 L620 409.68 L621 409.14 L622 409.8 L623 409.56 L624 410.98 L625 410 L626 410.8 L627 410.21 L628 411.06 L629 409.88 L630 410.3 L631 410.06 L632 410.95 L633 409.71 L634 410.94 L635 410.3 L636 410.64 L637 409.38 L638 409.93 L639 409 L640 409 L641 408.41 L642 409.11 L643 408.8 L644 409.34 L645 409.09 L646 409.99 L647 410 L648 410.21 L649 409.43 L650 409.5 L651 409.41 L652 410.03 L653 409.62 L654 410 L655 409.71 L656 410.42 L657 409.66 L658 410.91 L659 410.5 L660 410.66 L661 409.92 L662 410.51 L663 410 L664 410.22 L665 409.4 L666 409.5 L667 408.31 L668 409.06 L669 407.8 L670 408.59 L671 408.5 L672 409.45 L673 409.25 L674 410 L675 409.91 L676 410.71 L677 410.5 L678 412.04 L679 412.9 L680 413.22 L681 412.01 L682 412 L683 411.65 L684 412.43 L685 411.16 L686 411.5 L687 411.09 L688 411.73 L689 410.9 L690 411 L691 410.39 L692 411.41 L693 409.95 L694 410.99 L695 410.3 L696 410.38 L697 409.39 L698 409.81 L699 408.67 L700 409 L701 408.36 L702 409.26 L703 408.5 L704 408.47 L705 407.38 L706 407.3 L707 405.54 L708 405 L709.2 403.8 L711 407 L712 406.56 L713 407.5 L714 406.12 L715 406 L716 405.4 L717 406.61 L718 406 L719 407.32 L720 407.5 L721 408.15 L722 407.7 L723 408.5 L724 407.95 L725 408.39 L726 408 L727 407.72 L728 407 L729 405.3 L730 405.3 L731 406 L732 405.66 L733 406 L734 405.95 L735 407 L736 407.22 L737 408.8 L738 408.6 L739 409.94 L740 409.5 L741 410.29 L742 409.02 L743 410.19 L744 409.58 L745 410 L746 409.58 L747 410.11 L748 409.39 L749 410.12 L750 409.5 L751 410.35 L752 409.28 L753 410.54 L754 409.77 L755 410.5 L756 409.65 L757 410 L758 409.5 L759 409.5 L760 404.8 L761 406 L762 406.5 L763 407.16 L764 406.09 L765 407.47 L766 407 L767 407.33 L768 406.5 L769 407.44 L770 407.5 L771 405.3 L772 404 L773.5 395.3 L774.75 397.25 L776 399.8 L776.9 399.95 L777.8 401.67 L778.7 401.45 L779.6 402.8 L780.6 394.3 L781.8 394.99 L783 394.3 L784.6 381.1 L785.6 382.75 L786.6 385.2 L787.65 389.34 L788.7 394.3 L789.95 391.58 L791.2 390.2 L792.2 386.63 L793.2 384.2 L794.7 378.1 L795.7 380.39 L796.7 382.1 L798.2 378.1 L799.2 371 L800.3 353.3 L801 358 L802.2 367.4 L803.3 350 L803.9 337.2 L804.5 350 L805 341 L805.5 362 L806.1 346 L806.6 370 L807.2 349 L807.7 360 L808.2 347 L808.8 356 L809.3 340 L809.8 345 L810.4 334.8 L811.5 336 L812.5 339.8 L813.5 353 L814.4 375 L815.4 389.2 L816.9 382.1 L818.15 378.83 L819.4 376.1 L820.9 381.1 L822.4 380.1 L823.7 382.37 L825 385.2 L826 390.2 L827.5 387.7 L828.5 387.8 L829.5 389.2 L830.5 390.12 L831.5 392.53 L832.5 393.16 L833.5 395.3 L834.53 392.91 L835.57 392.43 L836.6 390.2 L837.6 388.92 L838.6 386.39 L839.6 385.2 L840.85 379.38 L842.1 374.1 L843.1 377.25 L844.1 381.52 L845.1 384.2 L846.1 382.7 L847.1 379.67 L848.1 378.1 L849.1 384.2 L850.1 384.53 L851.1 383.11 L852.1 383.2 L853.1 391.2 L854.35 393.09 L855.6 393.7 L856.65 391.06 L857.7 387.2 L858.7 386.26 L859.7 384.7 L860.95 385.53 L862.2 385.7 L863.2 388.3 L864.2 390.2 L865.2 389.19 L866.2 387.04 L867.2 386.2 L868.25 379.81 L869.3 374.1 L870.3 380.1 L871.3 382.07 L872.3 383.2 L873.8 386.7 L874.8 386.68 L875.8 387.2 L877.3 391.7 L878.33 393.39 L879.37 393.38 L880.4 394.8 L881.65 393.07 L882.9 392.2 L883.95 392.7 L885 394.2 L885.93 395.18 L886.87 397.88 L887.8 399.1 L888.85 399.76 L889.9 399.1 L891.3 403.7 L892.47 403.01 L893.63 403.7 L894.8 403 L895.85 402.07 L896.9 400.2 L897.95 400.92 L899 401.2 L900.25 403.23 L901.5 404.4 L902.75 404 L904 403 L905.05 403.56 L906.1 403.7 L907.5 404.8 L908.75 403.3 L910 403 L910.93 400.94 L911.87 399.91 L912.8 397.7 L914 400.92 L915.2 403 L916.13 403.15 L917.07 401.96 L918 402 L918.93 402 L919.87 403.42 L920.8 403.4 L921.77 404.56 L922.73 404.27 L923.7 405.1 L925.4 410 L926.3 409.78 L927.2 408.6 L928.16 408.97 L929.12 408.33 L930.08 409.31 L931.04 408.3 L932 408.8" fill="none" stroke="#1bb97c" stroke-width="2.3" stroke-linejoin="round" stroke-linecap="round"/>
 <path d="M425.3 395 L425.8 390 L426.2 330 L426.6 285 L427.1 266 L427.7 200 L428.2 117.1 L428.6 262 L429.1 200 L429.7 256 L430.5 155 L431 251 L431.6 200 L432.2 246 L433.2 186.2 L433.8 246 L434.3 225 L434.6 246 L434.9 281 L435.1 315.6 L435.6 290 L436.2 281" fill="none" stroke="#17c383" stroke-width="2.3" stroke-linejoin="round" stroke-linecap="round"/>
 <rect x="5" y="406" width="65" height="18.7" fill="#9ba0ac"/>
 <text x="36.6" y="419" font-family="Liberation Sans, Arial, sans-serif" font-size="11.3" font-weight="700" fill="#fff" text-anchor="middle">0.000011</text>
</svg>
<div class="tabs">
 <div class="tab on" style="left:3.2px;width:47px;text-align:center;padding-left:1px;box-sizing:border-box">Price</div>
 <div class="tab" style="left:62.8px">Market Cap</div>
 <div class="tab" style="left:149px">TradingView</div>
</div>
<div class="ranges">
 <div class="rg" style="left:13px">1D</div>
 <div class="rg" style="left:45px">7D</div>
 <div class="rg" style="left:79px">1M</div>
 <div class="rg" style="left:114px">3M</div>
 <div class="rg" style="left:150px">1Y</div>
 <div class="rg" style="left:182px">YTD</div>
 <div class="rg on" style="left:217px;top:3px;width:40px;text-align:center;height:30px"><span style="position:relative;top:1px">ALL</span></div>
 <svg style="left:269px;top:10px" width="17" height="17" viewBox="0 0 17 17"><g fill="none" stroke="#4f5563" stroke-width="1.6" stroke-linecap="round"><rect x="1.3" y="3.3" width="13.4" height="11.9" rx="2"/><line x1="1.3" y1="7.6" x2="14.7" y2="7.6"/><line x1="5.2" y1="1.6" x2="5.2" y2="4.4"/><line x1="11.8" y1="1.6" x2="11.8" y2="4.4"/></g></svg>
 <div style="position:absolute;left:297px;top:11px;width:1px;height:12px;background:#cfd6e4"></div>
 <div class="rg" style="left:310px;top:3px">LOG</div>
</div>
<svg width="932" height="40" viewBox="0 0 932 40" style="left:0;top:0"><g fill="none" stroke="#50545f" stroke-width="2" stroke-linecap="round"><path d="M866.1 14.5 V13.5 Q866.1 12.1 867.5 12.1 H868.5"/><path d="M877.3 12.1 H878.3 Q879.7 12.1 879.7 13.5 V14.5"/><path d="M866.1 21.1 V22.1 Q866.1 23.5 867.5 23.5 H868.5"/><path d="M877.3 23.5 H878.3 Q879.7 23.5 879.7 22.1 V21.1"/></g><g fill="#50545f"><circle cx="907.2" cy="18" r="1.6"/><circle cx="913" cy="18" r="1.6"/><circle cx="918.8" cy="18" r="1.6"/></g></svg>
</body></html>
